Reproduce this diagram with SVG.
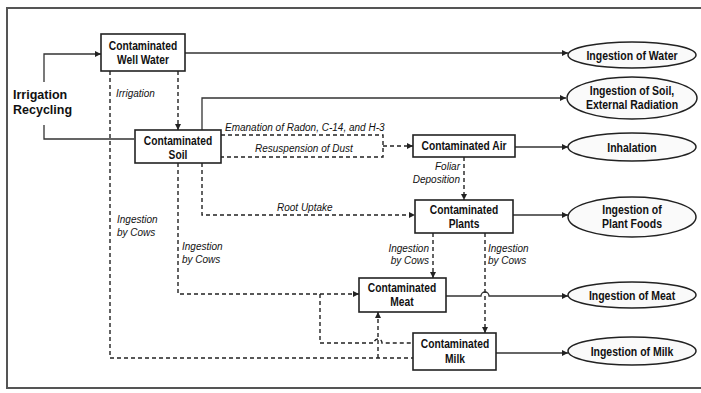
<svg xmlns="http://www.w3.org/2000/svg" width="701" height="393" viewBox="0 0 701 393">
<defs>
<marker id="ah" viewBox="0 0 10 10" refX="10" refY="5" markerWidth="7" markerHeight="6" markerUnits="userSpaceOnUse" orient="auto">
<path d="M0,0 L10,5 L0,10 z" fill="#222"/>
</marker>
</defs>
<style>
.box{fill:#fff;stroke:#222;stroke-width:1.6}
.ell{fill:#fafafa;stroke:#222;stroke-width:1.5}
.solid{fill:none;stroke:#333;stroke-width:1.3}
.dash{fill:none;stroke:#222;stroke-width:1.4;stroke-dasharray:4 3}
.nt{font-family:"Liberation Sans",Arial,sans-serif;font-weight:bold;font-size:12.5px;fill:#111;text-anchor:middle}
.lb{font-family:"Liberation Sans",Arial,sans-serif;font-style:italic;font-size:10px;fill:#111}
.big{font-family:"Liberation Sans",Arial,sans-serif;font-weight:bold;font-size:12.5px;fill:#111}
</style>
<rect x="0" y="0" width="701" height="393" fill="#fff"/>
<rect x="7" y="8" width="700" height="380" fill="none" stroke="#555" stroke-width="2"/>

<g id="connectors">
<path class="solid" d="M44,82 V54 H101" marker-end="url(#ah)"/>
<path class="solid" d="M44,125 V139 H134"/>
<path class="solid" d="M185,53 H568" marker-end="url(#ah)"/>
<path class="solid" d="M202,130 V98 H566" marker-end="url(#ah)"/>
<path class="solid" d="M515,147 H568" marker-end="url(#ah)"/>
<path class="solid" d="M513,215 H568" marker-end="url(#ah)"/>
<path class="solid" d="M446,296 H481 a4,4 0 0 1 8,0 H568" marker-end="url(#ah)"/>
<path class="solid" d="M496,353 H568" marker-end="url(#ah)"/>

<path class="dash" d="M178,71 V130" marker-end="url(#ah)"/>
<path class="dash" d="M110,71 V358 H413"/>
<path class="dash" d="M378,358 V312" marker-end="url(#ah)"/>
<path class="dash" d="M178,163 V294 H359" marker-end="url(#ah)"/>
<path class="dash" d="M320,294 V343 H374 a4,4 0 0 1 8,0 H413"/>
<path class="dash" d="M202,163 V215 H415" marker-end="url(#ah)"/>
<path class="dash" d="M221,135 H383 V157 H221"/>
<path class="dash" d="M383,146 H413" marker-end="url(#ah)"/>
<path class="dash" d="M464,157 V200" marker-end="url(#ah)"/>
<path class="dash" d="M433,233 V278" marker-end="url(#ah)"/>
<path class="dash" d="M485,233 V333" marker-end="url(#ah)"/>

<text class="lb" x="116" y="97">Irrigation</text>
<text class="lb" x="225" y="131">Emanation of Radon, C-14, and H-3</text>
<text class="lb" x="255" y="152">Resuspension of Dust</text>
<text class="lb" x="277" y="211">Root Uptake</text>
<text class="lb" x="460" y="170" text-anchor="end">Foliar</text>
<text class="lb" x="460" y="183" text-anchor="end">Deposition</text>
<text class="lb" x="117" y="223">Ingestion</text>
<text class="lb" x="117" y="236">by Cows</text>
<text class="lb" x="182" y="250">Ingestion</text>
<text class="lb" x="182" y="263">by Cows</text>
<text class="lb" x="429" y="252" text-anchor="end">Ingestion</text>
<text class="lb" x="429" y="264" text-anchor="end">by Cows</text>
<text class="lb" x="488" y="252">Ingestion</text>
<text class="lb" x="488" y="264">by Cows</text>
<text class="big" x="13" y="99">Irrigation</text>
<text class="big" x="13" y="114">Recycling</text>
</g>

<g id="well-water">
<rect class="box" x="101" y="34" width="84" height="37"/>
<text class="nt" transform="translate(143,50) scale(0.82,1)">Contaminated</text>
<text class="nt" transform="translate(143,64) scale(0.82,1)">Well Water</text>
</g>
<g id="soil">
<rect class="box" x="135" y="130" width="86" height="33"/>
<text class="nt" transform="translate(178,145) scale(0.82,1)">Contaminated</text>
<text class="nt" transform="translate(178,159) scale(0.82,1)">Soil</text>
</g>
<g id="air">
<rect class="box" x="413" y="135" width="102" height="22"/>
<text class="nt" transform="translate(464,150) scale(0.82,1)">Contaminated Air</text>
</g>
<g id="plants">
<rect class="box" x="415" y="200" width="98" height="33"/>
<text class="nt" transform="translate(464,214) scale(0.82,1)">Contaminated</text>
<text class="nt" transform="translate(464,228) scale(0.82,1)">Plants</text>
</g>
<g id="meat">
<rect class="box" x="359" y="278" width="87" height="34"/>
<text class="nt" transform="translate(402,292) scale(0.82,1)">Contaminated</text>
<text class="nt" transform="translate(402,306) scale(0.82,1)">Meat</text>
</g>
<g id="milk">
<rect class="box" x="413" y="333" width="83" height="37"/>
<text class="nt" transform="translate(455,348) scale(0.82,1)">Contaminated</text>
<text class="nt" transform="translate(455,363) scale(0.82,1)">Milk</text>
</g>

<g id="ing-water">
<ellipse class="ell" cx="632" cy="55" rx="64" ry="13"/>
<text class="nt" transform="translate(632,59.5) scale(0.84,1)">Ingestion of Water</text>
</g>
<g id="ing-soil">
<ellipse class="ell" cx="632" cy="98" rx="65" ry="21"/>
<text class="nt" transform="translate(632,95) scale(0.84,1)">Ingestion of Soil,</text>
<text class="nt" transform="translate(632,109) scale(0.84,1)">External Radiation</text>
</g>
<g id="inhalation">
<ellipse class="ell" cx="632" cy="147" rx="64" ry="14"/>
<text class="nt" transform="translate(632,151.5) scale(0.84,1)">Inhalation</text>
</g>
<g id="ing-plant">
<ellipse class="ell" cx="632" cy="217" rx="64" ry="20"/>
<text class="nt" transform="translate(632,214) scale(0.84,1)">Ingestion of</text>
<text class="nt" transform="translate(632,228) scale(0.84,1)">Plant Foods</text>
</g>
<g id="ing-meat">
<ellipse class="ell" cx="632" cy="295" rx="64" ry="13"/>
<text class="nt" transform="translate(632,299.5) scale(0.84,1)">Ingestion of Meat</text>
</g>
<g id="ing-milk">
<ellipse class="ell" cx="632" cy="351" rx="64" ry="14"/>
<text class="nt" transform="translate(632,355.5) scale(0.84,1)">Ingestion of Milk</text>
</g>
</svg>
